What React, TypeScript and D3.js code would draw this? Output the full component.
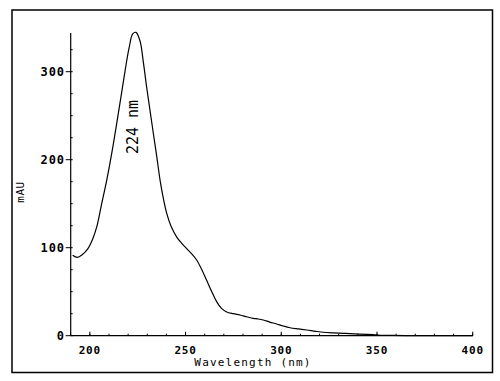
import React from "react";
import * as d3 from "d3";

const wavelengths = [191, 193.5, 196, 199, 201.5, 203.6, 206, 208.8, 211.5, 214, 216.3, 218.4, 220.5, 222.4, 224.1, 226.2, 228, 229.7, 231.5, 233.2, 235, 236.7, 238.5, 240.2, 242.5, 245.4, 248, 250.6, 253.2, 255.8, 258.5, 261, 263.7, 266.3, 268.8, 271.5, 275, 278.5, 282, 285.4, 288, 290.6, 294, 297.6, 301, 304.6, 309, 313.3, 318, 322, 327, 332.4, 338, 344.6, 349, 353, 358, 365, 375, 390, 400];
const absorbance = [91.5, 89, 92, 99, 110, 123.6, 148, 176.5, 208, 240.8, 272, 301, 327, 343, 344.7, 335, 310, 282, 255, 229.5, 203, 176.5, 155, 138.8, 124, 112, 105, 99, 93, 86, 75, 63, 50, 38.5, 31, 27, 25, 23.5, 21.5, 19.7, 19, 17.8, 15.5, 13.3, 11, 9, 7.7, 6.5, 5, 3.9, 3.2, 2.7, 2.1, 1.5, 1, 0.5, 0.3, 0.1, 0, 0, 0];

const xTicks = [200, 250, 300, 350, 400];
const yTicks = [0, 100, 200, 300];
const xLabel = "Wavelength (nm)";
const yLabel = "mAU";
const peakLabel = "224 nm";

export default function App() {
  const x = d3.scaleLinear().domain([190, 400]).range([70.7, 472.7]);
  const y = d3.scaleLinear().domain([0, 100]).range([335.7, 247.7]);
  const yTop = 344;
  const line = d3
    .line<number>()
    .x((_, i) => x(wavelengths[i]))
    .y((d) => y(d))
    .curve(d3.curveCatmullRom.alpha(0.5));

  const minorX = d3.range(190, 401, 10);
  const minorY = d3.range(0, yTop, 25);
  const mono = "'DejaVu Sans Mono', monospace";

  return (
    <svg
      width={500}
      height={381}
      style={{ position: "absolute", left: 0, top: 0, background: "#fff" }}
    >
      <rect x={12} y={10} width={480.5} height={362.5} fill="none" stroke="#000" strokeWidth={1.5} />
      <line x1={x(190)} x2={x(190)} y1={y(0)} y2={y(yTop)} stroke="#000" strokeWidth={1.2} />
      <line x1={x(190)} x2={x(400)} y1={y(0)} y2={y(0)} stroke="#000" strokeWidth={1.2} />
      {minorY.map((v) => (
        <line key={"my" + v} x1={x(190)} x2={x(190) + 2} y1={y(v)} y2={y(v)} stroke="#000" strokeWidth={1} />
      ))}
      {yTicks.map((v) => (
        <g key={"y" + v}>
          <line x1={x(190) - 5} x2={x(190)} y1={y(v)} y2={y(v)} stroke="#000" strokeWidth={1} />
          <text
            x={x(190) - 6}
            y={y(v)}
            dy="0.35em"
            textAnchor="end"
            fontFamily={mono}
            fontSize={12}
            fontWeight="bold"
            letterSpacing={0.8}
          >
            {v}
          </text>
        </g>
      ))}
      {minorX.map((v) => (
        <line key={"mx" + v} x1={x(v)} x2={x(v)} y1={y(0)} y2={y(0) - 2} stroke="#000" strokeWidth={1} />
      ))}
      {xTicks.map((v) => (
        <g key={"x" + v}>
          <line x1={x(v)} x2={x(v)} y1={y(0)} y2={y(0) - 4} stroke="#000" strokeWidth={1} />
          <text
            x={x(v)}
            y={354}
            textAnchor="middle"
            fontFamily={mono}
            fontSize={11}
            fontWeight="bold"
            letterSpacing={0.8}
          >
            {v}
          </text>
        </g>
      ))}
      <text
        x={253}
        y={366}
        textAnchor="middle"
        fontFamily={mono}
        fontSize={11}
        letterSpacing={1.2}
      >
        {xLabel}
      </text>
      <text
        transform={`translate(24,192) rotate(-90)`}
        textAnchor="middle"
        fontFamily={mono}
        fontSize={11}
        letterSpacing={0.5}
      >
        {yLabel}
      </text>
      <text
        transform={`translate(138,127) rotate(-90)`}
        textAnchor="middle"
        fontFamily={mono}
        fontSize={15}
      >
        {peakLabel}
      </text>
      <path d={line(absorbance) || ""} fill="none" stroke="#000" strokeWidth={1.2} />
    </svg>
  );
}
